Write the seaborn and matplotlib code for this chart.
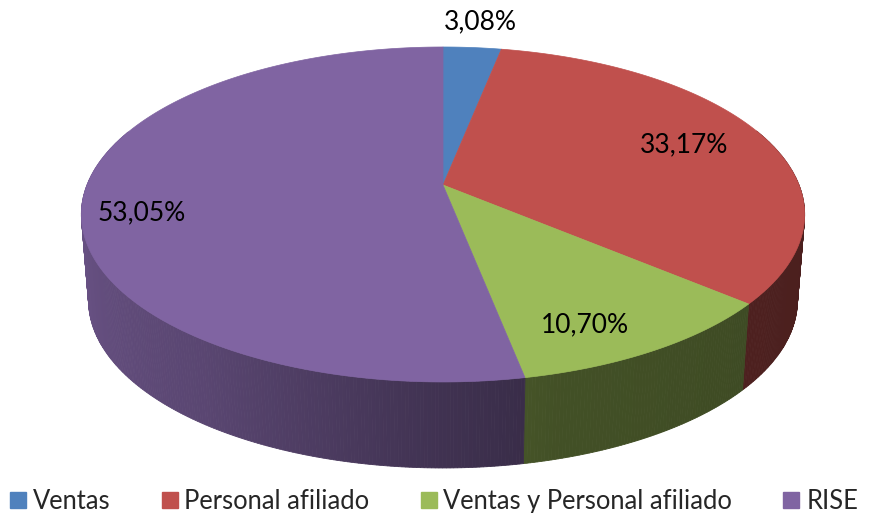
import numpy as np
import matplotlib
matplotlib.use("Agg")
import matplotlib.pyplot as plt
from matplotlib.patches import Polygon, Patch
import seaborn as sns

# data
categories = ["Ventas", "Personal afiliado", "Ventas y Personal afiliado", "RISE"]
shares = [3.08, 33.17, 10.70, 53.05]
pct_labels = ["3,08%", "33,17%", "10,70%", "53,05%"]
slice_colors = ["#4F81BD", "#C0504D", "#9BBB59", "#8064A2"]

sns.set_theme(style="white")
plt.rcParams["font.family"] = ["Lato", "DejaVu Sans"]

W, H = 883, 513
fig = plt.figure(figsize=(W / 100, H / 100), dpi=100)
ax = fig.add_axes([0, 0, 1, 1])
ax.set_xlim(0, W)
ax.set_ylim(H, 0)
ax.axis("off")

# perspective pie geometry (pixels)
cx, cy = 443, 185
a, b, k = 356, 162.3, 0.176
depth, shrink = 86, 0.98


def top_pt(t, r=1.0):
    # t in degrees, clockwise from 12 o'clock
    tr = np.radians(t)
    d = 1 + k * r * np.cos(tr)
    return cx + a * r * np.sin(tr) / d, cy - b * r * np.cos(tr) / d


def bot_pt(t):
    x, y = top_pt(t)
    return cx + (x - cx) * shrink, y + depth


def wall_factor(t):
    # light comes from the left, front-right side is darkest
    return np.interp(t, [60, 130, 165, 180, 215, 270, 300],
                     [0.38, 0.40, 0.43, 0.50, 0.70, 0.85, 0.86])


palette = sns.color_palette(slice_colors)
bounds = np.concatenate([[0], np.cumsum(shares)]) / sum(shares) * 360

# side walls, back to front
strips = []
for i, col in enumerate(palette):
    t0, t1 = bounds[i], bounds[i + 1]
    n = max(2, int((t1 - t0) / 0.5))
    ts = np.linspace(t0, t1, n + 1)
    for s0, s1 in zip(ts[:-1], ts[1:]):
        if np.cos(np.radians((s0 + s1) / 2)) > 0.35:
            continue
        f = wall_factor((s0 + s1) / 2)
        c = tuple(np.clip(np.array(col) * f, 0, 1))
        quad = [top_pt(s0), top_pt(s1), bot_pt(s1), bot_pt(s0)]
        strips.append((-np.cos(np.radians((s0 + s1) / 2)), quad, c))
strips.sort(key=lambda s: s[0])
for _, quad, c in strips:
    ax.add_patch(Polygon(quad, closed=True, facecolor=c, edgecolor=c, lw=0.6))

# top face
for i, col in enumerate(palette):
    ts = np.linspace(bounds[i], bounds[i + 1], 200)
    pts = [(cx, cy)] + [top_pt(t) for t in ts]
    ax.add_patch(Polygon(pts, closed=True, facecolor=col, edgecolor=col, lw=0.5))

# data labels
label_pos = [(480, 22), (684, 145), (585, 325), (142, 213)]
for txt, (x, y) in zip(pct_labels, label_pos):
    ax.text(x, y, txt, ha="center", va="center", fontsize=19, color="black")

handles = [Patch(facecolor=c, edgecolor=c) for c in palette]
ax.legend(handles, categories, loc="lower left", bbox_to_anchor=(0.0, -0.022),
          ncol=4, frameon=False, fontsize=18.4, handlelength=0.62,
          handleheight=0.55, handletextpad=0.27, columnspacing=2.0,
          borderaxespad=0.2, borderpad=0.2)

fig.savefig("out.png", dpi=100, facecolor="white")
